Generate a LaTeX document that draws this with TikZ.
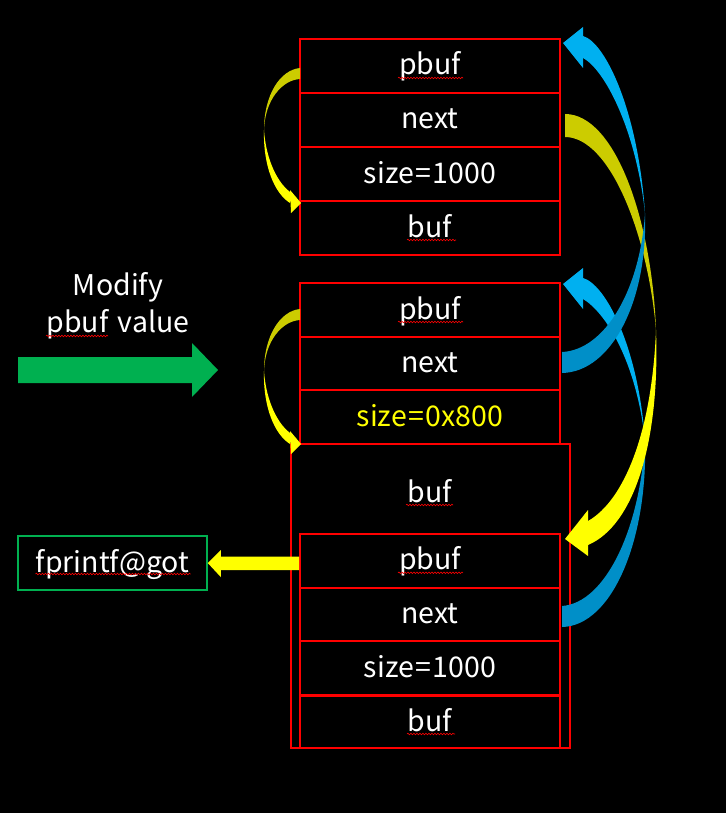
\documentclass[tikz,border=0pt]{standalone}
\usepackage{fontspec}
\setmainfont{Noto Sans CJK JP}
\usetikzlibrary{calc,decorations.pathmorphing}
\definecolor{pred}{HTML}{FF0000}
\definecolor{pgreen}{HTML}{00B050}
\definecolor{pyel}{HTML}{FFFF00}
\definecolor{dyel}{HTML}{CCCC00}
\definecolor{lblue}{HTML}{00B0F0}
\definecolor{dblue}{HTML}{008FC8}
\newcommand\weq{\kern1.5pt=\kern1.5pt}
\begin{document}
\begin{tikzpicture}[x=1pt,y=-1pt,
  txt/.style={text=white, font=\fontsize{28.5}{32}\selectfont, text height=21pt, text depth=3pt, inner sep=0pt},
  row/.style={txt, draw=pred, line width=2pt, minimum width=260pt, minimum height=54pt},
  rowb/.style={row, minimum height=53.6pt},
  squig/.style={draw=pred, line width=0.6pt, decorate, decoration={snake, amplitude=0.8pt, segment length=3pt}}
]
\fill[black] (0,0) rectangle (726,813);
\useasboundingbox (0,0) rectangle (726,813);

% chunk 1
\node[row] (a1) at (430,66) {pbuf};
\node[row] (a2) at (430,120) {next};
\node[row] (a3) at (430,174) {size\weq 1000};
\node[row] (a4) at (430,228) {buf};

% big buffer box of chunk 2
\node[draw=pred, line width=2pt, minimum width=279pt, minimum height=304pt, inner sep=0pt] (big) at (430.5,596) {};
\node[txt] (bigl) at (430,493) {buf};

% chunk 2 header
\node[rowb] (b1) at (430,310) {pbuf};
\node[rowb] (b2) at (430,363.6) {next};
\node[rowb, text=pyel] (b3) at (430,417.2) {size\weq 0x800};

% chunk 3 (fake)
\node[rowb] (c1) at (430,560.8) {pbuf};
\node[rowb] (c2) at (430,614.4) {next};
\node[rowb] (c3) at (430,668) {size\weq 1000};
\node[rowb, minimum height=52pt] (c4) at (430,722) {buf};

% left texts
\node[txt] (mod1) at (118,286) {Modify};
\node[txt] (mod2) at (118,323) {pbuf\kern3pt{} value};
\node[txt, draw=pgreen, line width=1.5pt, minimum width=189pt, minimum height=54pt] (got) at (112.5,563) {fprintf@got};

% spell-check squiggles
\draw[squig] ($(a1.center)+(-32,12)$) -- ($(a1.center)+(33,12)$);
\draw[squig] ($(a4.center)+(-23,12)$) -- ($(a4.center)+(26,12)$);
\draw[squig] ($(b1.center)+(-32,12)$) -- ($(b1.center)+(33,12)$);
\draw[squig] ($(bigl.center)+(-24,12)$) -- ($(bigl.center)+(23,12)$);
\draw[squig] ($(c1.center)+(-32,12)$) -- ($(c1.center)+(33,12)$);
\draw[squig] ($(c4.center)+(-23,12)$) -- ($(c4.center)+(25,12)$);
\draw[squig] (46,336) -- (108,336);
\draw[squig] ($(got.center)+(-77,11)$) -- ($(got.center)+(78,11)$);

% green block arrow
\fill[pgreen] (18,357) -- (192,357) -- (192,343) -- (218,370) -- (192,397) -- (192,383) -- (18,383) -- cycle;

% yellow straight arrow to fprintf@got
\fill[pyel] ($(c1.west |- got.east)+(0,-6.5)$) -- ($(got.east)+(13,-6.5)$) -- ($(got.east)+(13,-13)$) -- (got.east)
  -- ($(got.east)+(13,14)$) -- ($(got.east)+(13,7)$) -- ($(c1.west |- got.east)+(0,7)$) -- cycle;

% left curved arrows (pbuf -> buf)
\foreach \dy in {0,241}{
\begin{scope}[shift={(0,\dy)}]
\fill[dyel] (300,68) .. controls (280,70) and (264,95) .. (264,130) .. controls (265,100) and (282,80) .. (300,79) -- cycle;
\fill[pyel] (264,130) .. controls (266,160) and (278,185) .. (293,194) -- (290,203) .. controls (274,193) and (263,165) .. (264,130) -- cycle;
\fill[pyel] (301,203) -- (290,190) -- (291,213) -- cycle;
\end{scope}
}

% blue arrow: fake chunk next -> chunk 2 pbuf
\fill[dblue] (645,440) .. controls (640,530) and (605,603) .. (562,606) -- (562,627) .. controls (612,626) and (648,540) .. (645,440) -- cycle;
\fill[lblue] (583,278) .. controls (605,284) and (638,345) .. (645,440) .. controls (636,360) and (605,312) .. (583,299) -- cycle;
\fill[lblue] (563,284) -- (583,268) -- (583,309) -- cycle;

% yellow arrow: chunk1 next -> fake chunk pbuf
\fill[dyel] (565,114) .. controls (615,114) and (652,220) .. (656,330) .. controls (648,235) and (610,137) .. (565,137) -- cycle;
\fill[pyel] (656,330) .. controls (652,430) and (625,500) .. (588,521) -- (588,545) .. controls (635,525) and (660,440) .. (656,330) -- cycle;
\fill[pyel] (565,539) -- (588,510) -- (588,556) -- cycle;

% blue arrow: chunk2 next -> chunk1 pbuf
\fill[lblue] (583,36) .. controls (605,42) and (638,110) .. (645,213) .. controls (636,130) and (605,70) .. (583,58) -- cycle;
\fill[lblue] (563,43) -- (583,27) -- (583,68) -- cycle;
\fill[dblue] (645,213) .. controls (640,290) and (605,350) .. (562,352) -- (562,373) .. controls (612,372) and (648,300) .. (645,213) -- cycle;
\end{tikzpicture}
\end{document}
